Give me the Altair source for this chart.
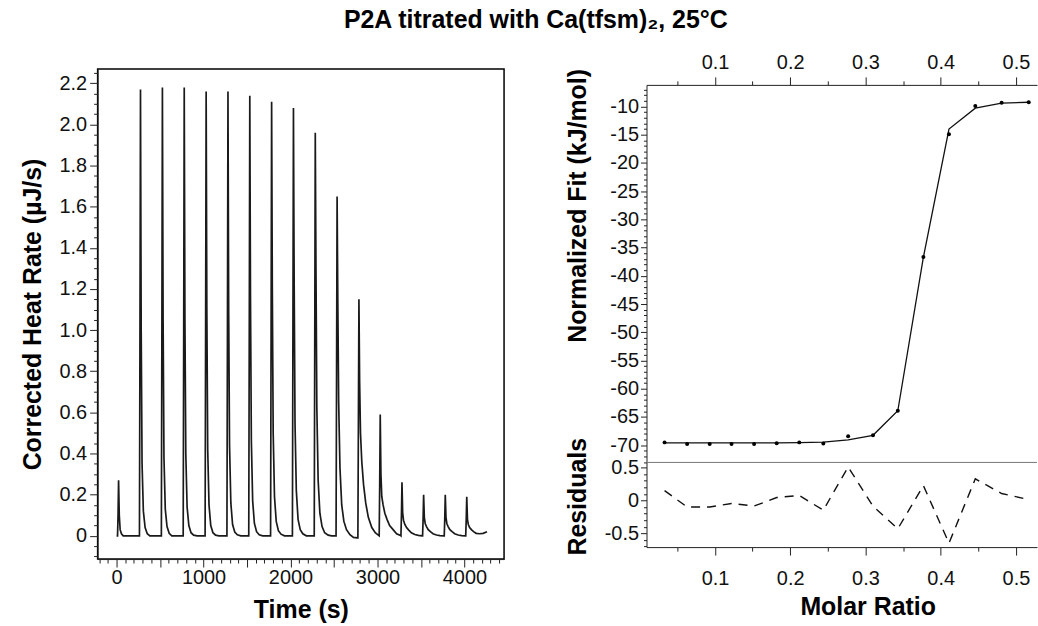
import altair as alt
import pandas as pd

FONT = "Liberation Sans"
TITLE = "P2A titrated with Ca(tfsm)₂, 25°C"

# ---------------- raw thermogram (left panel) ----------------
peak_apex = [23, 275, 527, 778, 1030, 1281, 1532, 1783, 2034, 2285, 2536, 2787, 3032, 3282, 3531, 3780, 4027]
peak_offsets = [-12, -6, 0, 8, 18, 33, 53, 78, 108, 148, 188, 233]
peak_values = [
    [0, 0.10, 0.27, 0.10, 0.03, 0.010, 0.000, 0.000, 0.000, 0.000, 0.000, 0.000],
    [0, 1.00, 2.17, 1.00, 0.35, 0.120, 0.040, 0.010, 0.000, 0.000, 0.000, 0.000],
    [0, 1.00, 2.18, 1.05, 0.38, 0.130, 0.045, 0.012, 0.000, 0.000, 0.000, 0.000],
    [0, 1.00, 2.18, 1.05, 0.40, 0.140, 0.050, 0.015, 0.003, 0.000, 0.000, 0.000],
    [0, 1.00, 2.16, 1.10, 0.42, 0.150, 0.050, 0.015, 0.003, 0.000, 0.000, 0.000],
    [0, 1.00, 2.16, 1.10, 0.44, 0.160, 0.055, 0.018, 0.005, 0.000, 0.000, 0.000],
    [0, 1.00, 2.14, 1.15, 0.46, 0.170, 0.060, 0.020, 0.005, 0.000, 0.000, 0.000],
    [0, 1.00, 2.11, 1.20, 0.50, 0.190, 0.070, 0.025, 0.008, 0.000, 0.000, 0.000],
    [0, 1.00, 2.08, 1.25, 0.55, 0.220, 0.080, 0.030, 0.010, 0.000, 0.000, 0.000],
    [0, 0.95, 1.96, 1.30, 0.62, 0.270, 0.110, 0.045, 0.015, 0.003, 0.000, 0.000],
    [0, 0.80, 1.65, 1.15, 0.65, 0.330, 0.150, 0.070, 0.030, 0.005, -0.008, -0.010],
    [-0.01, 0.55, 1.15, 0.75, 0.50, 0.360, 0.250, 0.160, 0.090, 0.040, 0.015, 0.000],
    [0, 0.25, 0.59, 0.30, 0.19, 0.150, 0.110, 0.080, 0.050, 0.030, 0.010, 0.002],
    [0, 0.10, 0.26, 0.11, 0.075, 0.055, 0.040, 0.028, 0.015, 0.006, 0.002, 0.000],
    [0, 0.08, 0.20, 0.09, 0.06, 0.045, 0.030, 0.020, 0.010, 0.004, 0.001, 0.000],
    [0, 0.08, 0.20, 0.09, 0.06, 0.045, 0.030, 0.020, 0.010, 0.004, 0.001, 0.000],
    [0, 0.08, 0.19, 0.08, 0.055, 0.040, 0.030, 0.020, 0.012, 0.010, 0.012, 0.020],
]
trace_start_time = 0
trace_start_value = 0.0

# ---------------- integrated heats (right panel) ----------------
molar_ratio = [0.033, 0.063, 0.093, 0.122, 0.152, 0.182, 0.212, 0.244,
               0.277, 0.310, 0.343, 0.377, 0.411, 0.446, 0.481, 0.517]
norm_heat = [-69.5, -69.8, -69.8, -69.8, -69.8, -69.65, -69.5, -69.7,
             -68.4, -68.25, -63.9, -36.65, -14.9, -9.9, -9.35, -9.25]
fit_heat = [-69.6, -69.6, -69.6, -69.6, -69.6, -69.6, -69.55, -69.45,
            -69.05, -68.25, -63.9, -36.7, -14.0, -10.3, -9.4, -9.25]
residuals = [0.15, -0.10, -0.10, -0.045, -0.085, 0.045, 0.076, -0.147,
             0.51, -0.086, -0.43, 0.227, -0.65, 0.33, 0.106, 0.015]

# tick positions / labels
time_ticks = list(range(-200, 4401, 100))
rate_ticks = [round(-0.1 + 0.05 * i, 2) for i in range(48)]
ratio_ticks = [round(0.05 * i, 2) for i in range(1, 11)]
fit_ticks = list(range(-73, -6))
resid_ticks = [round(-0.7 + 0.1 * i, 1) for i in range(13)]

# build tables
t_col, q_col = [trace_start_time], [trace_start_value]
for apex, vals in zip(peak_apex, peak_values):
    for off, v in zip(peak_offsets, vals):
        t_col.append(apex + off)
        q_col.append(v)
trace_df = pd.DataFrame({"t": t_col, "q": q_col})
fit_df = pd.DataFrame({"ratio": molar_ratio, "heat": norm_heat, "fit": fit_heat, "resid": residuals})
one_df = pd.DataFrame({"k": [0]})


def is_major(step):
    return f"abs(datum.value/{step} - round(datum.value/{step})) < 1e-6"


def tick_size(step, big, small):
    return {"condition": {"test": is_major(step), "value": big}, "value": small}


common = dict(
    labelFont=FONT, labelFontSize=20, labelColor="#111",
    titleFont=FONT, titleFontSize=25, titleFontWeight="bold", titleColor="#000",
    grid=False, domainColor="#222", tickColor="#222", domainWidth=1, tickWidth=1,
    labelFlush=False, labelOverlap=False, labelBound=False,
)

# ---------------- left chart ----------------
left = alt.Chart(trace_df).mark_line(color="#1a1a1a", strokeWidth=1.7, clip=True).encode(
    x=alt.X("t:Q", scale=alt.Scale(domain=[-218, 4456], nice=False, zero=False),
            axis=alt.Axis(values=time_ticks, title="Time (s)",
                          labelExpr="datum.value % 1000 === 0 ? '' + datum.value : ''",
                          tickSize=tick_size(500, 8, 4), labelPadding=1, titlePadding=10, **common)),
    y=alt.Y("q:Q", scale=alt.Scale(domain=[-0.113, 2.27], nice=False, zero=False),
            axis=alt.Axis(values=rate_ticks, title="Corrected Heat Rate (µJ/s)",
                          labelExpr=f"{is_major(0.2)} ? (datum.value == 0 ? '0' : format(datum.value, '.1f')) : ''",
                          tickSize=tick_size(0.2, 8, 4), labelPadding=3, titlePadding=12,
                          minExtent=40, maxExtent=40, **common)),
    order="t:Q",
).properties(width=408, height=492, view=alt.ViewBackground(stroke="black", strokeWidth=1.5))

# ---------------- right upper ----------------
xs = alt.Scale(domain=[0.009, 0.528], nice=False, zero=False)
top_x_axis = alt.Axis(orient="top", values=ratio_ticks, title=None,
                      labelExpr=f"{is_major(0.1)} ? format(datum.value, '.1f') : ''",
                      tickSize=tick_size(0.1, 8, 4), labelPadding=4, **common)
fit_scale = alt.Scale(domain=[-73.05, -6.17], nice=False, zero=False)
fit_axis = alt.Axis(values=fit_ticks, title="Normalized Fit (kJ/mol)",
                    labelExpr=f"{is_major(5)} ? '' + datum.value : ''",
                    tickSize=tick_size(5, 6, 3), labelPadding=2, titlePadding=14,
                    minExtent=42, maxExtent=42, titleY=121, **common)

upper_line = alt.Chart(fit_df).mark_line(color="#111", strokeWidth=1.3).encode(
    x=alt.X("ratio:Q", scale=xs, axis=top_x_axis),
    y=alt.Y("fit:Q", scale=fit_scale, axis=fit_axis),
)
upper_pts = alt.Chart(fit_df).mark_point(filled=True, color="#000", size=16, opacity=1).encode(
    x=alt.X("ratio:Q", scale=xs, axis=top_x_axis),
    y=alt.Y("heat:Q", scale=fit_scale, axis=fit_axis),
)
upper = alt.layer(upper_line, upper_pts).properties(width=392, height=379)

# ---------------- right lower (residuals) ----------------
lower_line = alt.Chart(fit_df).mark_line(color="#111", strokeWidth=1.4, strokeDash=[9, 7]).encode(
    x=alt.X("ratio:Q", scale=xs,
            axis=alt.Axis(orient="bottom", values=ratio_ticks, title="Molar Ratio",
                          labelExpr=f"{is_major(0.1)} ? format(datum.value, '.1f') : ''",
                          tickSize=tick_size(0.1, 8, 4), labelPadding=14, titlePadding=6,
                          titleX=222, **common)),
    y=alt.Y("resid:Q", scale=alt.Scale(domain=[-0.71, 0.58], nice=False, zero=False),
            axis=alt.Axis(values=resid_ticks, title="Residuals",
                          labelExpr=f"{is_major(0.5)} ? (datum.value == 0 ? '0' : '' + datum.value) : ''",
                          tickSize=tick_size(0.5, 6, 3), labelPadding=2, titlePadding=14,
                          minExtent=42, maxExtent=42, titleY=34, **common)),
)
lower_sep = alt.Chart(one_df).mark_rule(color="#777", strokeWidth=1).encode(y=alt.value(0))
lower = alt.layer(lower_line, lower_sep).properties(width=392, height=85)

# invisible offset block that lowers the right-hand plots relative to the left one
right_spacer = alt.Chart(one_df).mark_point(opacity=0).encode(
    x=alt.value(0), y=alt.value(0)
).properties(width=392, height=16)

right_col = alt.vconcat(right_spacer, upper, lower, spacing=0, bounds="flush")

chart = alt.hconcat(left, right_col, spacing=60).properties(
    title=alt.TitleParams(TITLE, font=FONT, fontSize=25, fontWeight="bold", color="#000",
                          anchor="middle", offset=20, dx=7),
    padding={"left": 20, "top": 7, "right": 0, "bottom": 0},
).configure(font=FONT).configure_view(strokeWidth=0)

chart.save("out.html", embed_options={"renderer": "svg", "actions": False})
